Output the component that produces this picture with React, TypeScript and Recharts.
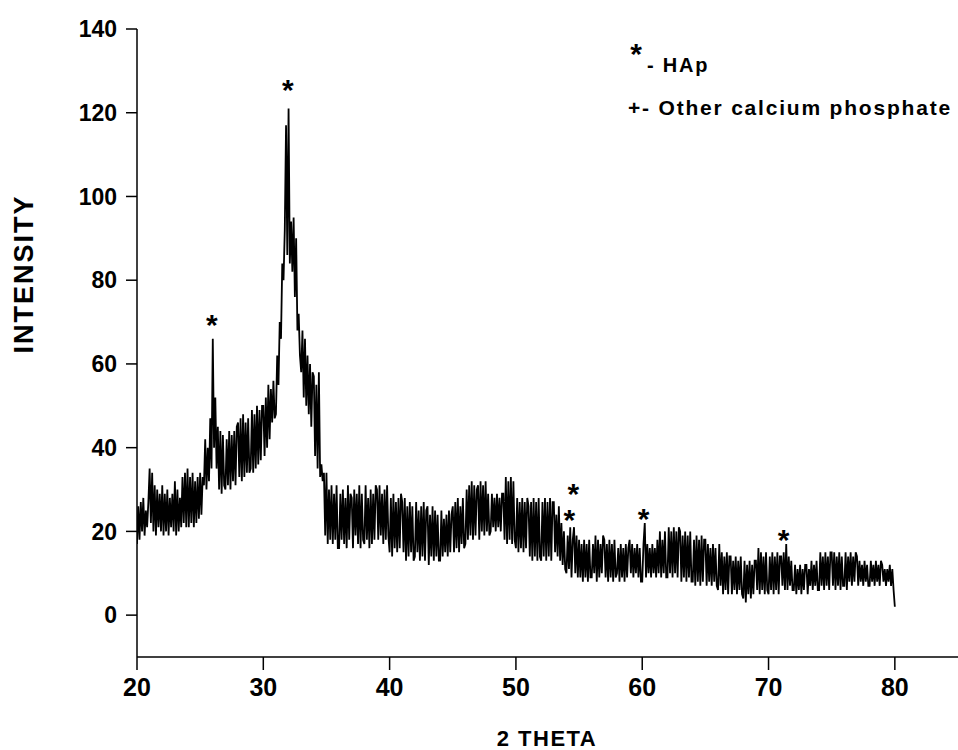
import React from 'react'
import { ComposedChart, Line, Scatter, XAxis, YAxis, Customized } from 'recharts'

// XRD scan, 20..80 deg, one reading every 0.1 deg (one row = one degree)
const startAngle = 20
const stepAngle = 0.1

const intensity = [
  17, 26, 18, 27, 20, 28, 19, 25, 21, 27,
  35, 22, 34, 20, 31, 19, 30, 21, 29, 20,
  31, 19, 29, 20, 30, 19, 28, 21, 29, 20,
  32, 19, 30, 20, 28, 21, 33, 22, 34, 21,
  35, 21, 33, 22, 34, 21, 32, 22, 33, 23,
  34, 24, 33, 31, 42, 30, 40, 32, 47, 35,
  66, 40, 52, 35, 45, 30, 44, 29, 43, 31,
  30, 42, 31, 44, 30, 43, 32, 44, 31, 45,
  46, 33, 47, 32, 48, 33, 46, 34, 47, 34,
  35, 49, 34, 48, 35, 50, 36, 49, 37, 50,
  50, 38, 52, 40, 55, 42, 54, 46, 56, 47,
  48, 62, 55, 70, 66, 84, 80, 92, 117, 86,
  121, 84, 94, 82, 95, 76, 90, 68, 72, 62,
  58, 68, 52, 66, 50, 62, 48, 60, 45, 58,
  57, 38, 55, 35, 58, 33, 36, 32, 34, 19,
  34, 17, 30, 18, 31, 17, 29, 18, 31, 16,
  16, 29, 18, 30, 17, 28, 16, 31, 18, 29,
  28, 16, 30, 19, 29, 17, 31, 16, 29, 18,
  17, 31, 18, 28, 16, 30, 17, 29, 18, 31,
  30, 18, 31, 19, 29, 17, 30, 18, 31, 19,
  15, 28, 14, 29, 16, 27, 15, 28, 16, 29,
  27, 15, 28, 13, 26, 14, 27, 15, 26, 13,
  14, 27, 15, 25, 13, 26, 14, 27, 13, 25,
  26, 12, 24, 14, 26, 13, 25, 14, 24, 13,
  13, 25, 14, 23, 15, 24, 14, 25, 15, 24,
  26, 15, 27, 16, 28, 15, 26, 17, 28, 16,
  17, 30, 18, 31, 19, 32, 18, 31, 19, 30,
  31, 18, 32, 20, 31, 19, 32, 20, 29, 19,
  20, 29, 21, 28, 20, 29, 21, 28, 20, 29,
  29, 18, 33, 17, 32, 18, 33, 17, 32, 18,
  16, 28, 15, 27, 16, 28, 15, 27, 16, 28,
  26, 14, 27, 13, 28, 14, 27, 13, 28, 14,
  13, 27, 14, 28, 13, 27, 14, 28, 13, 27,
  27, 15, 24, 14, 26, 13, 22, 12, 20, 11,
  10, 19, 11, 21, 9, 18, 21, 10, 19, 9,
  18, 9, 17, 8, 18, 9, 17, 8, 18, 9,
  9, 17, 10, 19, 8, 18, 9, 17, 10, 19,
  18, 9, 17, 8, 18, 9, 17, 8, 18, 9,
  10, 16, 8, 17, 9, 16, 8, 17, 9, 16,
  18, 10, 17, 9, 16, 10, 17, 9, 16, 8,
  8, 17, 22, 9, 17, 10, 16, 9, 17, 10,
  16, 9, 18, 10, 20, 9, 18, 10, 20, 9,
  9, 21, 10, 20, 9, 21, 10, 20, 9, 21,
  20, 8, 19, 9, 20, 8, 19, 9, 20, 8,
  8, 18, 7, 19, 8, 18, 7, 19, 8, 18,
  18, 7, 17, 8, 16, 7, 17, 8, 16, 7,
  6, 17, 7, 15, 5, 14, 6, 15, 5, 14,
  14, 5, 13, 6, 14, 5, 13, 6, 14, 5,
  4, 13, 3, 12, 5, 13, 4, 12, 5, 13,
  13, 6, 16, 5, 15, 6, 14, 5, 15, 6,
  5, 14, 6, 15, 5, 14, 6, 15, 5, 14,
  14, 7, 15, 6, 17, 6, 14, 7, 13, 6,
  6, 12, 5, 11, 6, 12, 5, 11, 6, 12,
  12, 5, 11, 7, 13, 6, 12, 7, 13, 6,
  6, 15, 7, 14, 6, 15, 7, 14, 6, 15,
  15, 7, 15, 6, 14, 7, 15, 6, 14, 7,
  7, 15, 6, 14, 8, 15, 7, 14, 8, 15,
  14, 7, 13, 8, 12, 7, 13, 8, 12, 7,
  7, 13, 8, 12, 7, 13, 8, 12, 7, 13,
  12, 8, 11, 7, 11, 8, 12, 7, 11, 6,
  2,
]

// where the "*" marks sit
const peakAngles = [25.93, 31.94, 54.55, 54.22, 60.1, 71.2]
const peakLevels = [71, 127, 30.6, 24.4, 24.7, 19.7]

const xTicks = [20, 30, 40, 50, 60, 70, 80]
const yTicks = [0, 20, 40, 60, 80, 100, 120, 140]

const legendItems = ['- HAp', '+- Other calcium phosphate']
const xTitle = '2 THETA'
const yTitle = 'INTENSITY'

const font = '"Liberation Sans", Arial, sans-serif'

const spectrum = intensity.map((v, i) => ({ angle: +(startAngle + i * stepAngle).toFixed(1), intensity: v }))
const peaks = peakAngles.map((a, i) => ({ angle: a, intensity: peakLevels[i] }))

const Star = (props: any) => (
  <text x={props.cx} y={props.cy + 17} textAnchor="middle" fontSize={30} fontWeight="bold" fontFamily={font} fill="#000">
    *
  </text>
)

const Notes = () => (
  <g fontFamily={font} fontWeight="bold" fill="#000">
    <text x={636} y={64} fontSize={30} textAnchor="middle">*</text>
    <text x={647} y={72} fontSize={20} letterSpacing={1.8}>{legendItems[0]}</text>
    <text x={628} y={115} fontSize={21} letterSpacing={1.8}>{legendItems[1]}</text>
    <text x={547} y={746} fontSize={22} letterSpacing={1.5} textAnchor="middle">{xTitle}</text>
    <text x={33} y={274} fontSize={27} letterSpacing={2} textAnchor="middle" transform="rotate(-90 33 274)">{yTitle}</text>
  </g>
)

function App() {
  const tickStyle = { fill: '#000', fontFamily: font, fontWeight: 'bold' }
  return (
    <div style={{ position: 'absolute', left: 0, top: 0, background: '#fff' }}>
      <ComposedChart width={958} height={750} margin={{ top: 29, right: 0, bottom: 0, left: 0 }}>
        <XAxis
          type="number"
          dataKey="angle"
          domain={[20, 85]}
          ticks={xTicks}
          allowDataOverflow
          height={93}
          tickSize={13}
          tickMargin={8}
          stroke="#000"
          strokeWidth={1.5}
          tick={{ ...tickStyle, fontSize: 25 }}
        />
        <YAxis
          type="number"
          domain={[-10, 140]}
          ticks={yTicks}
          allowDataOverflow
          width={137}
          tickSize={11}
          tickMargin={9}
          stroke="#000"
          strokeWidth={1.5}
          tick={{ ...tickStyle, fontSize: 23 }}
        />
        <Line
          data={spectrum}
          dataKey="intensity"
          type="linear"
          stroke="#000"
          strokeWidth={1.8}
          dot={false}
          isAnimationActive={false}
        />
        <Scatter data={peaks} dataKey="intensity" shape={Star} isAnimationActive={false} />
        <Customized component={Notes} />
      </ComposedChart>
    </div>
  )
}

export default App
